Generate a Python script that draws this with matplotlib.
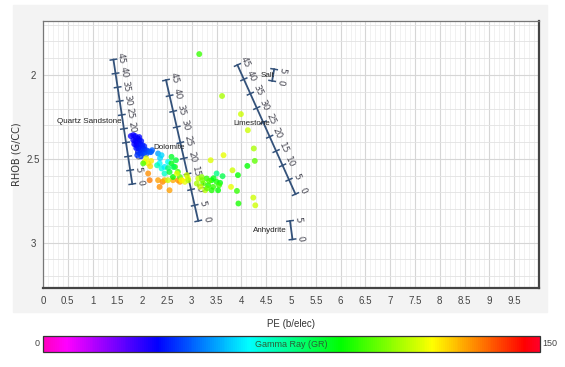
import numpy as np
import matplotlib
matplotlib.use("Agg")
import matplotlib.pyplot as plt
from matplotlib.patches import Rectangle

plt.rcParams["font.family"] = ["Liberation Sans", "DejaVu Sans"]

# log samples: PE (b/elec), RHOB (g/cc), gamma ray (API)
pe = [1.77, 1.82, 1.86, 1.90, 1.94, 1.82, 1.86, 1.90, 1.94, 1.98,
      1.84, 1.88, 1.92, 1.96, 2.00, 2.04, 1.88, 1.92, 1.96, 2.00,
      2.04, 2.08, 2.12, 1.92, 1.96, 2.00, 2.04, 2.08, 2.16, 2.20,
      1.98, 1.90,
      2.18, 2.32, 2.39,
      2.05, 2.12, 2.18, 2.02, 2.08, 2.16,
      2.12, 2.15, 2.35, 2.55, 2.72, 2.62, 2.41, 2.80, 2.92, 2.32, 2.45, 2.76,
      2.35, 2.39, 2.45, 2.52, 2.45, 2.30, 2.36,
      2.59, 2.66, 2.72, 2.55, 2.62, 2.76, 2.59, 2.63, 2.52, 2.68,
      2.52, 2.70, 2.90, 2.86, 2.93, 2.79,
      3.13, 3.20, 3.30, 3.40, 3.50, 3.57, 3.23, 3.33, 3.43, 3.53,
      3.17, 3.40, 3.27, 3.10, 3.35, 3.44, 3.55, 3.62, 3.50, 3.21, 3.31,
      3.15, 3.61, 3.99, 4.13, 4.25, 3.64, 3.38, 4.27, 4.12, 3.93,
      3.82, 3.79, 3.91, 4.24, 3.94, 4.28]
rhob = [2.364, 2.358, 2.364, 2.376, 2.370, 2.388, 2.394, 2.394, 2.388, 2.394,
        2.412, 2.418, 2.412, 2.412, 2.418, 2.424, 2.436, 2.436, 2.442, 2.436,
        2.442, 2.448, 2.454, 2.460, 2.466, 2.460, 2.466, 2.472, 2.460, 2.448,
        2.484, 2.478,
        2.458, 2.468, 2.478,
        2.518, 2.527, 2.512, 2.527, 2.496, 2.544,
        2.587, 2.627, 2.667, 2.687, 2.627, 2.627, 2.637, 2.627, 2.615, 2.627, 2.627, 2.637,
        2.527, 2.557, 2.548, 2.518, 2.587, 2.538, 2.496,
        2.527, 2.548, 2.578, 2.578, 2.608, 2.608, 2.488, 2.548, 2.555, 2.508,
        2.627, 2.587, 2.597, 2.637, 2.627, 2.627,
        2.617, 2.608, 2.617, 2.627, 2.637, 2.643, 2.647, 2.657, 2.667, 2.687,
        2.667, 2.687, 2.687, 2.647, 2.632, 2.615, 2.657, 2.603, 2.587, 2.627, 2.675,
        1.875, 2.125, 2.233, 2.329, 2.438, 2.478, 2.508, 2.512, 2.542, 2.597,
        2.568, 2.667, 2.691, 2.731, 2.766, 2.777]
gr = [33, 33, 34, 33, 35, 34, 33, 35, 34, 36,
      34, 35, 33, 36, 37, 38, 35, 36, 37, 38,
      39, 40, 42, 38, 39, 40, 41, 43, 44, 45,
      42, 40,
      45, 52, 58,
      118, 116, 120, 98, 115, 122,
      130, 132, 130, 128, 130, 127, 131, 124, 118, 128, 126, 128,
      62, 65, 60, 63, 68, 70, 58,
      88, 92, 95, 85, 90, 100, 86, 80, 78, 84,
      112, 115, 112, 115, 110, 118,
      112, 105, 95, 90, 92, 88, 100, 92, 95, 90,
      112, 93, 110, 108, 98, 88, 96, 82, 75, 103, 100,
      96, 108, 112, 112, 108, 115, 114, 100, 90, 90,
      112, 115, 95, 112, 92, 112]

# porosity scales: (PE, RHOB) at zero porosity and at the top porosity
litho_names = ["Quartz Sandstone", "Dolomite", "Limestone", "Salt", "Anhydrite"]
litho_zero = [(1.80, 2.65), (3.13, 2.87), (5.09, 2.71), (4.62, 2.035), (5.03, 2.98)]
litho_top = [(1.42, 1.908), (2.48, 2.03), (3.92, 1.94), (4.66, 1.965), (4.98, 2.87)]
litho_phimax = [45, 45, 45, 5, 5]
name_pos = [(1.58, 2.275, "right"), (2.22, 2.43, "left"), (3.83, 2.287, "left"),
            (4.38, 2.0, "left"), (4.91, 2.926, "right")]

W, H = 565, 367
fig = plt.figure(figsize=(W / 100, H / 100), dpi=100)
fig.patches.append(Rectangle((13 / W, 1 - 312 / H), 534 / W, 307 / H,
                             transform=fig.transFigure, color="#f3f3f3", zorder=-5))

ax = fig.add_axes([43 / W, 1 - 288 / H, 496 / W, 267.3 / H])
ax.set_zorder(2)
ax.set_facecolor("white")
ax.set_xlim(0, 10)
ax.set_ylim(3.27, 1.676)

ax.set_xticks(np.arange(0, 10, 0.5))
ax.set_xticks(np.arange(0, 10.01, 0.1), minor=True)
ax.set_yticks([2, 2.5, 3])
ax.set_yticks(np.arange(1.7, 3.27, 0.1), minor=True)
ax.set_xticklabels(["%g" % v for v in np.arange(0, 10, 0.5)])
ax.set_yticklabels(["2", "2.5", "3"])
ax.grid(True, which="major", color="#d6d6d6", lw=0.8, zorder=0)
ax.grid(True, which="minor", axis="x", color="#efefef", lw=0.6, zorder=0)
ax.grid(True, which="minor", axis="y", color="#e2e2e2", lw=0.6, zorder=0)
ax.set_axisbelow(True)
ax.tick_params(which="both", length=0, labelsize=7, colors="#444444")
ax.tick_params(axis="x", pad=6)
ax.tick_params(axis="y", pad=7)
for lab in ax.get_yticklabels():
    lab.set_ha("center")
for side in ["top", "left"]:
    ax.spines[side].set_color("#777777")
    ax.spines[side].set_linewidth(0.9)
for side in ["bottom", "right"]:
    ax.spines[side].set_color("#444444")
    ax.spines[side].set_linewidth(1.6)

ax.set_xlabel("PE (b/elec)", fontsize=7, color="#333333", labelpad=9)
ax.set_ylabel("RHOB (G/CC)", fontsize=7, color="#333333", family="DejaVu Sans", labelpad=4)

# porosity scales
to_px = ax.transData.transform
to_dat = ax.transData.inverted().transform
line_c = "#34527a"
for name, z, t, pmax, (lx, ly, lha) in zip(litho_names, litho_zero, litho_top,
                                            litho_phimax, name_pos):
    p0 = to_px(z)
    p1 = to_px(t)
    d = p1 - p0
    u = d / np.hypot(*d)
    n = np.array([u[1], -u[0]])
    ang = np.degrees(np.arctan2(-u[1], -u[0]))
    ax.plot([z[0], t[0]], [z[1], t[1]], color=line_c, lw=1.3, zorder=3)
    for phi in range(0, pmax + 1, 5):
        p = p0 + d * phi / pmax
        a, b = to_dat(p - 3.2 * n), to_dat(p + 3.2 * n)
        ax.plot([a[0], b[0]], [a[1], b[1]], color=line_c, lw=1.1, zorder=3)
        q = to_dat(p + 8 * n)
        ax.text(q[0], q[1], str(phi), rotation=ang, rotation_mode="anchor",
                ha="center", va="center", fontsize=6.5, color="#4a4a55",
                family="DejaVu Sans", zorder=3)
    ax.text(lx, ly, name, ha=lha, va="center", fontsize=5.8, color="#222222", zorder=5)

sc = ax.scatter(pe, rhob, c=gr, cmap="gist_rainbow_r", vmin=0, vmax=150,
                s=18, alpha=0.78, edgecolors="none", zorder=4)

# colour bar
cax = fig.add_axes([43 / W, 1 - 351.7 / H, 497 / W, 15.7 / H])
cax.set_zorder(2)
cb = fig.colorbar(sc, cax=cax, orientation="horizontal")
cb.set_ticks([])
cb.solids.set_alpha(1)
cb.outline.set_edgecolor("#333333")
cb.outline.set_linewidth(0.9)
cax.text(0.5, 0.45, "Gamma Ray (GR)", transform=cax.transAxes, ha="center",
         va="center", fontsize=6.5, color="#2b5e35")
cax.text(-0.006, 0.5, "0", transform=cax.transAxes, ha="right", va="center",
         fontsize=6.5, color="#444444")
cax.text(1.004, 0.5, "150", transform=cax.transAxes, ha="left", va="center",
         fontsize=6.5, color="#444444")

fig.savefig("out.png", dpi=100)
